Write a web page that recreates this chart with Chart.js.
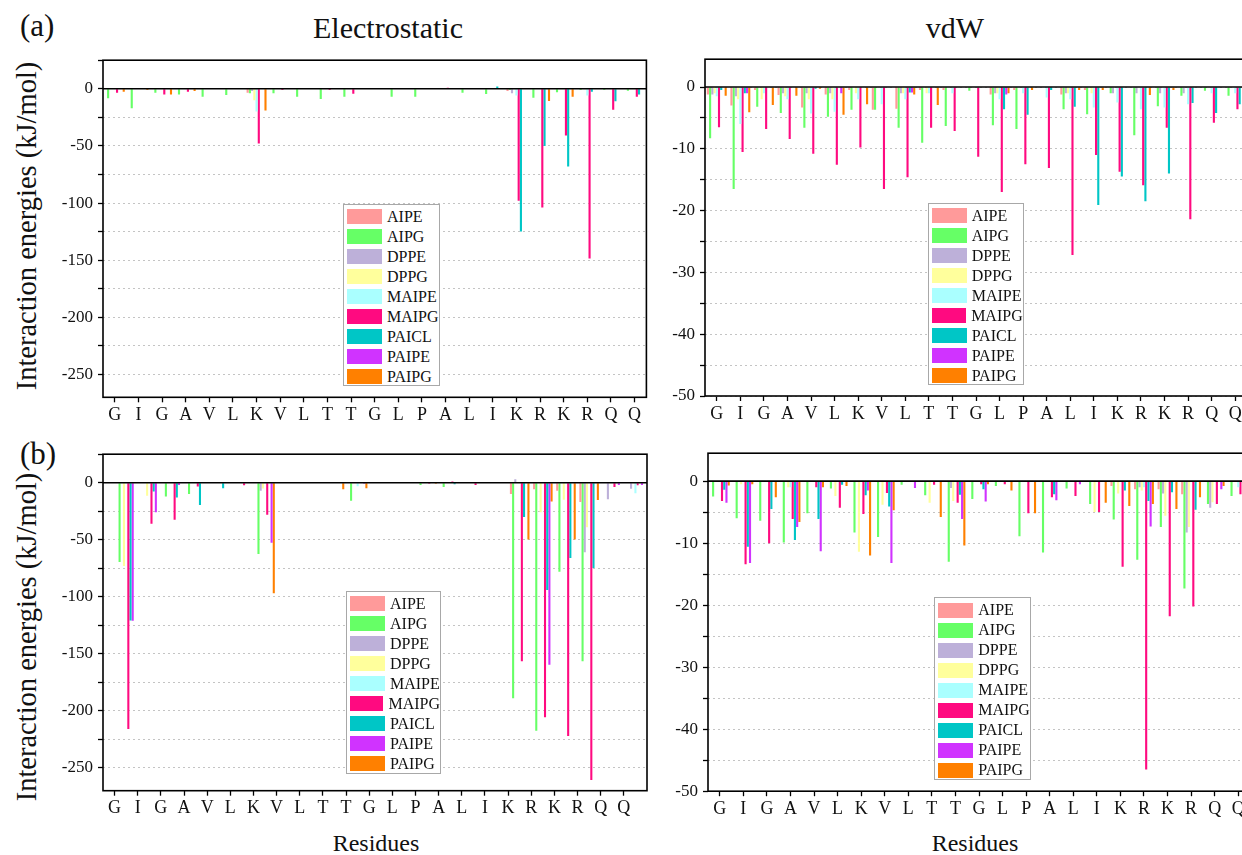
<!DOCTYPE html>
<html lang="en">
<head>
<meta charset="UTF-8">
<title>Interaction energies by residue</title>
<script src="https://cdn.jsdelivr.net/npm/chart.js"></script>
<style>
  html, body { margin: 0; padding: 0; background: #fff; overflow: hidden; }
  body { width: 1242px; height: 855px; position: relative; font-family: "Liberation Serif", "Times New Roman", serif; color: #111; }
  canvas { position: absolute; }
  .lbl { position: absolute; white-space: nowrap; line-height: 1.15; }
  .ytitle { position: absolute; white-space: nowrap; font-size: 28.5px; line-height: 1.15; transform: translate(-50%, -50%) rotate(-90deg); }
  .legend { position: absolute; background: #fff; border: 1px solid #a8a8a8; box-sizing: border-box; padding: 2px 0 0 3px; }
  .legend div { height: 20px; display: flex; align-items: center; font-size: 16px; }
  .legend span { display: inline-block; width: 35px; height: 15px; margin-right: 5px; }
</style>
</head>
<body>
<div class="lbl" style="left:20px; top:8px; font-size:31px;">(a)</div>
<div class="lbl" style="left:20px; top:436px; font-size:31px;">(b)</div>
<div class="lbl" style="left:388px; top:11px; font-size:30px; transform:translateX(-50%);">Electrostatic</div>
<div class="lbl" style="left:955px; top:11px; font-size:30px; transform:translateX(-50%);">vdW</div>
<div class="ytitle" style="left:27px; top:226px;">Interaction energies (kJ/mol)</div>
<div class="ytitle" style="left:27px; top:637px;">Interaction energies (kJ/mol)</div>
<div class="lbl" style="left:376px; top:830px; font-size:24px; transform:translateX(-50%);">Residues</div>
<div class="lbl" style="left:975px; top:830px; font-size:24px; transform:translateX(-50%);">Residues</div>

<canvas id="elecA"></canvas>
<canvas id="vdwA"></canvas>
<canvas id="elecB"></canvas>
<canvas id="vdwB"></canvas>

<script>
const residues = ['G','I','G','A','V','L','K','V','L','T','T','G','L','P','A','L','I','K','R','K','R','Q','Q'];
const lipids = ['AIPE','AIPG','DPPE','DPPG','MAIPE','MAIPG','PAICL','PAIPE','PAIPG'];
const lipidColors = ['#ff9a9a','#66ff66','#bdb0d9','#ffff9c','#aaffff','#ff0a80','#00c6c6','#d033ff','#ff8000'];

// one row per lipid, same order as `lipids`, one value per residue (kJ/mol)
const elecA = [
  [0,0,0,0,0,0,-3.4,0,0,0,0,0,0,0,0,0,0,-2,0,0,0,0,0],
  [-8.3,-17,-3.4,-5,-7,-5.5,-4,-4,-7,-9,-7,-0.5,-6.9,-7,-0.5,-3.4,-4.6,-1,-7.8,-3,-1,-1,-1.7],
  [0,0,0,0,0,0,-2,0,0,0,0,0,0,0,0,0,0,-4,0,0,0,0,0],
  [0,0,0,0,0,0,-10,0,0,0,0,0,0,0,0,0,0,0,0,0,0,0,0],
  [0,0,0,0,0,0,-20,0,0,0,0,0,0,0,0,0,0,-6,0,0,-6,0,0],
  [-3.4,0,-5,-2.6,0,0,-48,-1,0,-1,-4.3,0,0,0,1,0,0,-98,-104,-41,-148.6,-18.4,-7],
  [0,0,0,0,0,0,0,0,0,0,0,0,0,0,0,0,2,-125,-50,-68,-2.6,-11,-5],
  [0,0,0,0,0,0,0,0,0,0,0,0,0,0,0,0,0,0,0,0,0,0,0],
  [-2.6,-1,-5,-2,0,0,-19,0,0,0,0,0,0,0,0,0,0,0,-10.6,-7,0,0,0]
];

const vdwA = [
  [-1.2,-3,-0.5,-1.3,-3.3,-1.2,-0.5,-3.7,-3.5,-0.5,-0.5,0,-1.2,-0.5,0,-1.2,-0.5,0,0,0,0,0,0],
  [-8.3,-16.5,-3.2,-4.2,-6.6,-4.8,-3.7,-3.7,-6.6,-9,-6.3,-0.6,-6.2,-6.8,0,-3.6,-4.4,-1,-7.8,-3.1,-1.4,-0.6,-1.4],
  [-1.2,-1.5,0,-1,-1,-1,0,0,-1,0,0,0,-1,0,0,-1,0,-1,-1,-1,-1,0,0],
  [-1,-2,-2,-1.5,-2,-2,-1,0,-1,-1,0,0,-1,0,0,-1,-1,0,0,0,0,0,0],
  [-1.5,-6,-1,-2,-4.3,-4,-2,-2.8,-2,-1,-1,0,-2,-1,-1.7,-2,-3.3,-2.5,-3.6,-3.3,-2.8,-1,-1],
  [-6.5,-10.5,-6.8,-8.4,-10.8,-12.6,-9.8,-16.5,-14.6,-6.6,-7.1,-11.3,-17,-12.5,-13.1,-27.2,-11,-13.7,-15.9,-6.6,-21.4,-5.8,-3.6],
  [-0.5,-1,0,0,-0.3,0,0,0,-0.9,0,0,0,-3.6,-4.5,-0.5,-3.2,-19.1,-14.5,-18.5,-14,-2.6,-4.2,-2.8],
  [0,-1,0,0,0,-1,0,0,-0.9,0,0,0,-1.2,0,0,0,0,0,0,0,0,0,0],
  [-1.4,-4.1,-2.9,-1.4,-0.3,-4.5,-2.8,0,-1.2,-2.9,0,0,-1,-0.5,0,-0.5,-0.5,0,-1.3,-0.5,0,0,0]
];

const elecB = [
  [0,0,0,0,0,0,0,0,0,0,0,0,0,0,0,0,0,-10,-5.7,-7,-17,0,0],
  [-69.5,0,-12,-10,0,0,-62.4,0,0,0,-15.8,0,0,-2,-3.7,0,0,-189,-217.5,-78,-156.6,0,0],
  [0,0,0,0,0,0,-7,0,0,0,0,0,0,0,0,0,0,3,0,0,-61,-14.4,-5.2],
  [-73,-11.5,0,0,0,0,-5,0,0,0,0,0,0,0,0,0,0,0,-26,-15,-39,0,0],
  [0,0,0,0,0,0,0,0,0,0,-3,0,0,0,0,0,0,0,0,0,0,0,-9.2],
  [-216,-36,-32.5,-3.4,0,-2.3,-28,0,0,0,0,0,0,-1,1,-2,0,-156.6,-205.5,-222,-260.6,-3.7,-2.3],
  [-120.7,-7.8,-13,-19.5,-4.9,0,0,0,0,0,0,0,0,0,-1.4,0,0,-30,-94,-66,-74.7,0,0],
  [-121,-26,-2,0,0,0,-52.6,0,0,0,-1,0,0,0,0,0,0,0,-159.5,0,0,-2,-2],
  [0,0,0,0,0,0,-96.8,0,0,-5.7,-4.9,0,0,-1,0,0,0,-49.7,-16.4,-49.7,-15.2,0,0]
];

const vdwB = [
  [0,0,0,0,0,0,0,0,0,0,0,0,0,0,0,0,0,-0.8,-1.3,-1.3,-2.1,0,0],
  [-2.5,-6,-6.4,-9.9,-5.2,-1.2,-8.3,-9,-0.6,-2.3,-13,-2.9,-0.8,-8.9,-11.5,-1.2,-3.7,-6.2,-12.7,-7.4,-17.3,-3.7,-2.4],
  [0,0,0,0,0,0,0,0,0,0,-1.1,0,0,0,0,0,0,0,-1,-2,-8.3,-4.3,0],
  [0,-0.5,0,-1,0,-2.4,-11.4,-3.8,0,-3.5,-3.2,0,0,0,0,0,-5,-2,-1.5,-5.6,-7.4,-3.4,0],
  [0,0,0,-1,0,0,0,0,0,0,0,0,0,0,0,0,0,0,-1,0,0,0,-1],
  [-3.2,-13.4,-10,-6.1,-1,-4.3,-5.3,-1.9,0,-0.6,-3.5,-0.5,-0.5,-5.2,-2.6,-2.4,-5,-13.8,-46.5,-21.8,-20.2,-3.7,-2.1],
  [-1.4,-10.6,-4.5,-9.5,-6.1,-0.6,-2.3,-4.1,0,0,-2.2,-1.3,0,0,-2.1,0,0,-1.5,-3.2,-1.8,-4.6,0,0],
  [-3.5,-13.2,0,-7.4,-11.3,0,-1.5,-13.2,-1.1,0,-6.1,-3.3,0,0,-3.1,-0.5,0,0,-7.3,0,0,-1.3,0],
  [-0.7,-0.5,-2.6,-6.6,-1,-0.8,-12,-4.7,0,-5.8,-10.4,-0.5,-1.5,-5.2,0,0,-3.5,-4,-3.7,-4.5,-2.6,-0.8,0]
];

const elecTicks = [-250,-225,-200,-175,-150,-125,-100,-75,-50,-25,0,25];
const vdwTicks = [-50,-45,-40,-35,-30,-25,-20,-15,-10,-5,0];

const FONT = '"Liberation Serif", "Times New Roman", serif';

// plot box (x0, y0, x1, y1) on the page, legend box, y-axis width
const panels = [
  { id: 'elecA', rows: elecA, ticks: elecTicks, ymin: -270, ymax: 25, labelEvery: 50,
    shift: 0, xmax: 22.5, area: [103.3, 55, 646.7, 397.3], yw: 63, legend: [343, 203.5, 97, 182] },
  { id: 'vdwA', rows: vdwA, ticks: vdwTicks, ymin: -50, ymax: 4.5, labelEvery: 10,
    shift: 0, xmax: 22.5, area: [705, 54, 1247, 396], yw: 45, legend: [927.7, 202.7, 96, 182] },
  { id: 'elecB', rows: elecB, ticks: elecTicks, ymin: -270, ymax: 25, labelEvery: 50,
    shift: 0.5, xmax: 23, area: [102.7, 449.3, 646.7, 791], yw: 63, legend: [346, 590.7, 95, 183] },
  { id: 'vdwB', rows: vdwB, ticks: vdwTicks, ymin: -50, ymax: 4.5, labelEvery: 10,
    shift: 0, xmax: 22.5, area: [708, 448.3, 1250, 791.5], yw: 45, legend: [934.3, 597.3, 96.5, 183] }
];

// frame around the plot plus the solid zero line
const framePlugin = {
  id: 'frame',
  afterDatasetsDraw(chart) {
    const { ctx, chartArea: a, scales: { y } } = chart;
    const y0 = y.getPixelForValue(0);
    ctx.save();
    ctx.strokeStyle = '#000';
    ctx.lineWidth = 1.6;
    ctx.beginPath();
    ctx.moveTo(a.left, y0);
    ctx.lineTo(a.right, y0);
    ctx.stroke();
    ctx.strokeRect(a.left, a.top, a.right - a.left, a.bottom - a.top);
    ctx.restore();
  }
};

const buildLegend = (chart, box) => {
  const el = document.createElement('div');
  el.className = 'legend';
  el.style.left = box[0] + 'px';
  el.style.top = box[1] + 'px';
  el.style.width = box[2] + 'px';
  el.style.height = box[3] + 'px';
  chart.data.datasets.forEach(ds => {
    const row = document.createElement('div');
    const sw = document.createElement('span');
    sw.style.background = ds.backgroundColor;
    row.appendChild(sw);
    row.appendChild(document.createTextNode(ds.label));
    el.appendChild(row);
  });
  document.body.appendChild(el);
};

const PAD_TOP = 10, PAD_RIGHT = 8, XAXIS_H = 34;

const createPanel = (p) => {
  const [x0, y0, x1, y1] = p.area;
  const canvas = document.getElementById(p.id);
  canvas.style.left = (x0 - p.yw) + 'px';
  canvas.style.top = (y0 - PAD_TOP) + 'px';
  canvas.width = Math.round(x1 - x0 + p.yw + PAD_RIGHT);
  canvas.height = Math.round(y1 - y0 + PAD_TOP + XAXIS_H);

  const datasets = lipids.map((name, k) => ({
    label: name,
    data: p.rows[k].map((v, i) => ({ x: i + p.shift, y: v })),
    backgroundColor: lipidColors[k],
    borderWidth: 0,
    categoryPercentage: 0.85,
    barPercentage: 0.95
  }));

  const chart = new Chart(canvas.getContext('2d'), {
    type: 'bar',
    data: { datasets },
    options: {
      responsive: false,
      animation: false,
      devicePixelRatio: 1,
      layout: { padding: { top: PAD_TOP, right: canvas.width - (x1 - x0) - p.yw, left: 0, bottom: 0 } },
      plugins: { legend: { display: false }, tooltip: { enabled: false } },
      scales: {
        x: {
          type: 'linear',
          offset: false,
          min: -0.5,
          max: p.xmax,
          afterBuildTicks: s => { s.ticks = residues.map((r, i) => ({ value: i })); },
          afterFit: s => { s.height = canvas.height - PAD_TOP - (y1 - y0); },
          grid: { offset: false, drawOnChartArea: false, drawTicks: true, tickLength: 5, tickColor: '#000', tickWidth: 1.3 },
          border: { display: false },
          ticks: {
            autoSkip: false, maxRotation: 0, padding: 2, color: '#111',
            font: { family: FONT, size: 18 },
            callback: v => residues[v] ?? ''
          }
        },
        y: {
          min: p.ymin,
          max: p.ymax,
          afterBuildTicks: s => { s.ticks = p.ticks.map(v => ({ value: v })); },
          afterFit: s => { s.width = p.yw; },
          grid: { color: '#c4c4c4', lineWidth: 1, tickLength: 5, tickColor: '#000', tickWidth: 1.3 },
          border: { display: false, dash: [2, 3] },
          ticks: {
            autoSkip: false, padding: 5, color: '#111',
            font: { family: FONT, size: 17 },
            callback: v => (v % p.labelEvery === 0 ? String(v) : '')
          }
        }
      }
    },
    plugins: [framePlugin]
  });
  buildLegend(chart, p.legend);
  return chart;
};

panels.forEach(createPanel);
</script>
</body>
</html>
